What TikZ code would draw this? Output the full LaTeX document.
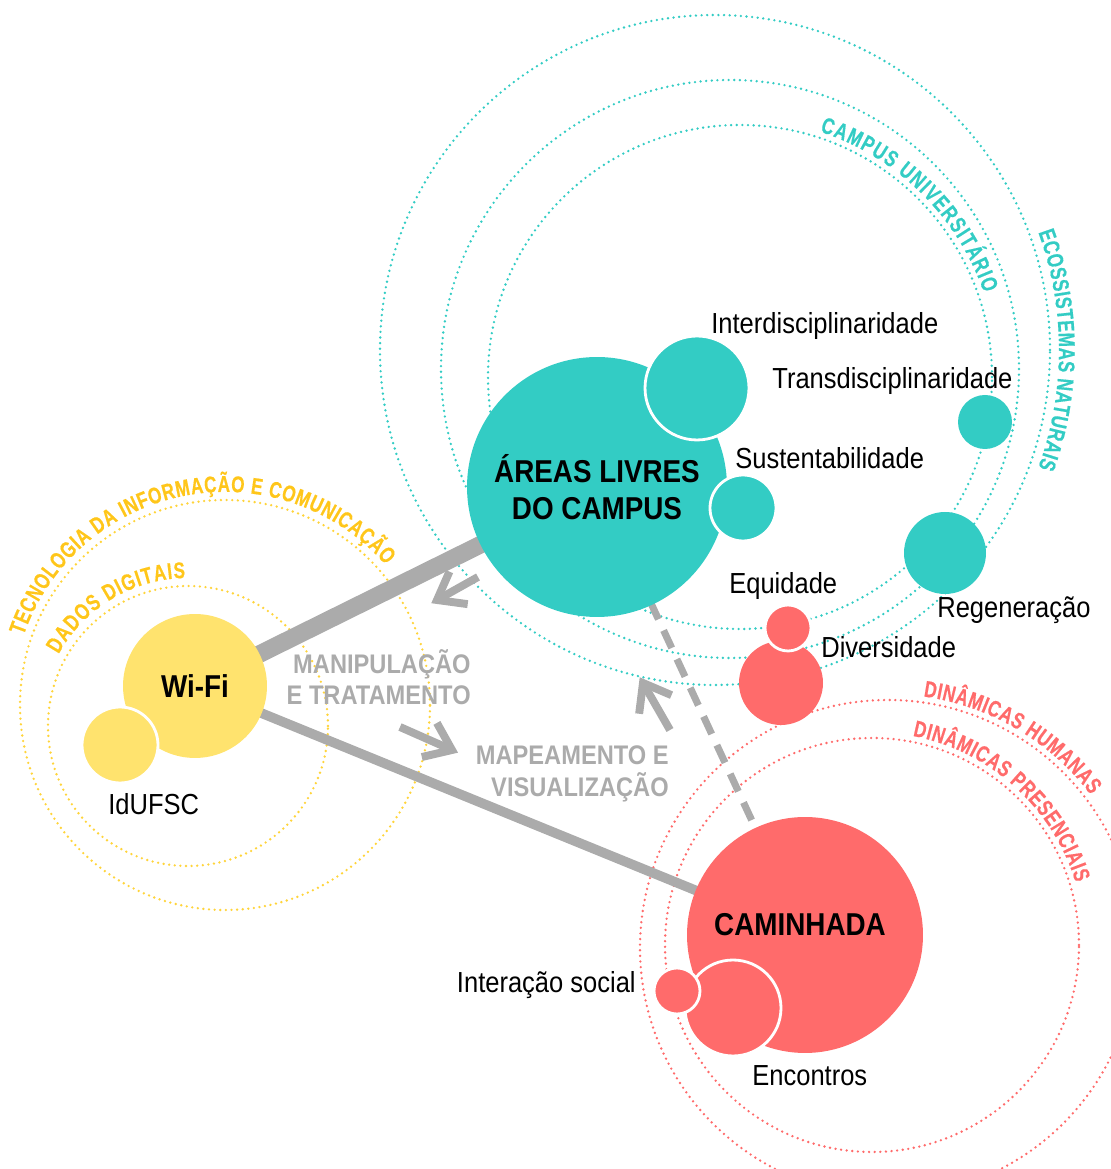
\documentclass[tikz,border=0pt]{standalone}
\usepackage{fontspec}
\setmainfont{Liberation Sans}[FakeStretch=0.88]
\newfontfamily\curvefam{Liberation Sans}[FakeStretch=0.75, BoldFeatures={FakeBold=0.5}]
\usetikzlibrary{calc,decorations.text}
\definecolor{teal1}{HTML}{33CCC4}
\definecolor{yel1}{HTML}{FFE36E}
\definecolor{yel2}{HTML}{FFC61A}
\definecolor{yelring}{HTML}{FFD43A}
\definecolor{red1}{HTML}{FF6B6B}
\definecolor{gray1}{HTML}{ABABAB}
\newcommand\curvelab[1]{\curvefam\bfseries\fontsize{13}{15}\selectfont\color{#1}}
\pgfdeclarelayer{ringlayer}
\pgfdeclarelayer{linklayer}
\pgfsetlayers{ringlayer,linklayer,main}
\begin{document}
\begin{tikzpicture}[x=0.02cm,y=0.02cm,
  ring/.style={line width=1.5pt, dash pattern=on 0pt off 3.2pt, line cap=round},
  blob/.style={circle, inner sep=0pt, outer sep=0pt},
  sub/.style={blob, draw=white, line width=1.6pt},
  lbl/.style={font=\fontsize{16.5}{19}\selectfont, inner sep=0pt, text=black},
  big/.style={font=\fontsize{18}{21}\selectfont\bfseries, align=center, text=black},
  grayt/.style={font=\fontsize{15.3}{18}\selectfont\bfseries, text=gray1, align=right, inner sep=0pt},
  arr/.style={draw=gray1, line width=4.5pt},
]
\useasboundingbox (0,0) rectangle (1110,1169);
\clip (0,0) rectangle (1110,1169);

% ---------- dotted rings ----------
\begin{pgfonlayer}{ringlayer}
\draw[ring, teal1] (715,819) circle[radius=335];
\draw[ring, teal1] (730,800) circle[radius=289];
\draw[ring, teal1] (740,792) circle[radius=252];
\draw[ring, yelring] (225,464) circle[radius=205];
\draw[ring, yelring] (188,443) circle[radius=140];
\draw[ring, red1] (888,221) circle[radius=248];
\draw[ring, red1] (872,224) circle[radius=207];
\end{pgfonlayer}

% ---------- main circles ----------
\node[blob, fill=teal1, minimum size=5.2cm, big] (areas) at (597,682) {ÁREAS LIVRES\\DO CAMPUS};
\node[sub, fill=teal1, minimum size=2.08cm] (interd) at (697,781) {};
\node[sub, fill=teal1, minimum size=1.32cm] (sust) at (743,661) {};
\node[blob, fill=teal1, minimum size=1.08cm] (trans) at (985,747) {};
\node[blob, fill=teal1, minimum size=1.64cm] (regen) at (945,616) {};

\node[blob, fill=red1, minimum size=1.68cm] (divers) at (781,486) {};
\node[sub, fill=red1, minimum size=0.92cm] (equid) at (788,541) {};
\node[blob, fill=red1, minimum size=4.72cm] (cam) at (805,234) {};
\node[sub, fill=red1, minimum size=1.92cm] (encon) at (733,161) {};
\node[sub, fill=red1, minimum size=0.92cm] (inter) at (677,178) {};
\node[big] (camlbl) at (800,244) {CAMINHADA};

\node[blob, fill=yel1, minimum size=2.88cm, big] (wifi) at (195,483) {Wi-Fi};
\node[sub, fill=yel1, minimum size=1.52cm] (idufsc) at (120,424) {};

% ---------- connectors ----------
\begin{pgfonlayer}{linklayer}
\draw[gray1, line width=10pt] (wifi.center) -- (areas.center);
\draw[gray1, line width=5.5pt] (wifi.center) -- (cam.center);
\draw[gray1, line width=4pt, dash pattern=on 11pt off 7pt] (areas.center) -- (cam.center);
\end{pgfonlayer}

% ---------- arrows ----------
\coordinate (a1t) at (478,592); \coordinate (a1h) at (437,569);
\coordinate (a2t) at (400,442); \coordinate (a2h) at (452,419);
\coordinate (a3t) at (670,439); \coordinate (a3h) at (643,486);
\foreach \t/\h in {a1t/a1h,a2t/a2h,a3t/a3h}{
  \draw[arr] (\t) -- (\h);
  \draw[arr, line join=miter] ($(\h)!0.62cm!37:(\t)$) -- (\h) -- ($(\h)!0.62cm!-37:(\t)$);
}

% ---------- labels ----------
\node[lbl, anchor=base west] (linterd) at (711,835) {Interdisciplinaridade};
\node[lbl, anchor=base west] (ltrans) at (772,780) {Transdisciplinaridade};
\node[lbl, anchor=base west] (lsust) at (735,700) {Sustentabilidade};
\node[lbl, anchor=base west] (lequid) at (729,575) {Equidade};
\node[lbl, anchor=base west] (lregen) at (937,551) {Regeneração};
\node[lbl, anchor=base west] (ldivers) at (821,511) {Diversidade};
\node[lbl, anchor=base west] (lidufsc) at (108,354) {IdUFSC};
\node[lbl, anchor=base east] (linter) at (636,176) {Interação social};
\node[lbl, anchor=base west] (lencon) at (752,83) {Encontros};

\node[grayt, anchor=east] (manip) at (471,492) {MANIPULAÇÃO\\E TRATAMENTO};
\node[grayt, anchor=east] (mapea) at (669,395) {MAPEAMENTO E\\VISUALIZAÇÃO};

% ---------- curved labels ----------
\path[decorate, decoration={text along path, text align=fit to path,
  text={|\curvelab{teal1}|CAMPUS UNIVERSITÁRIO}}]
  ($(740,792)+(72:258)$) arc[start angle=72, end angle=19, radius=258];
\path[decorate, decoration={text along path, text align=fit to path,
  text={|\curvelab{teal1}|ECOSSISTEMAS NATURAIS}}]
  ($(715,819)+(20:344)$) arc[start angle=20, end angle=-20, radius=344];
\path[decorate, decoration={text along path, text align=fit to path,
  text={|\curvelab{yel2}|DADOS DIGITAIS}}]
  ($(188,443)+(151:148)$) arc[start angle=151, end angle=91, radius=148];
\path[decorate, decoration={text along path, text align=fit to path,
  text={|\curvelab{yel2}|TECNOLOGIA DA INFORMAÇÃO E COMUNICAÇÃO}}]
  ($(225,464)+(161:213)$) arc[start angle=161, end angle=41, radius=213];
\path[decorate, decoration={text along path, text align=fit to path,
  text={|\curvelab{red1}|DINÂMICAS HUMANAS}}]
  ($(888,221)+(82:254)$) arc[start angle=82, end angle=37, radius=254];
\path[decorate, decoration={text along path, text align=fit to path,
  text={|\curvelab{red1}|DINÂMICAS PRESENCIAIS}}]
  ($(872,224)+(79:213)$) arc[start angle=79, end angle=17, radius=213];
\end{tikzpicture}
\end{document}
